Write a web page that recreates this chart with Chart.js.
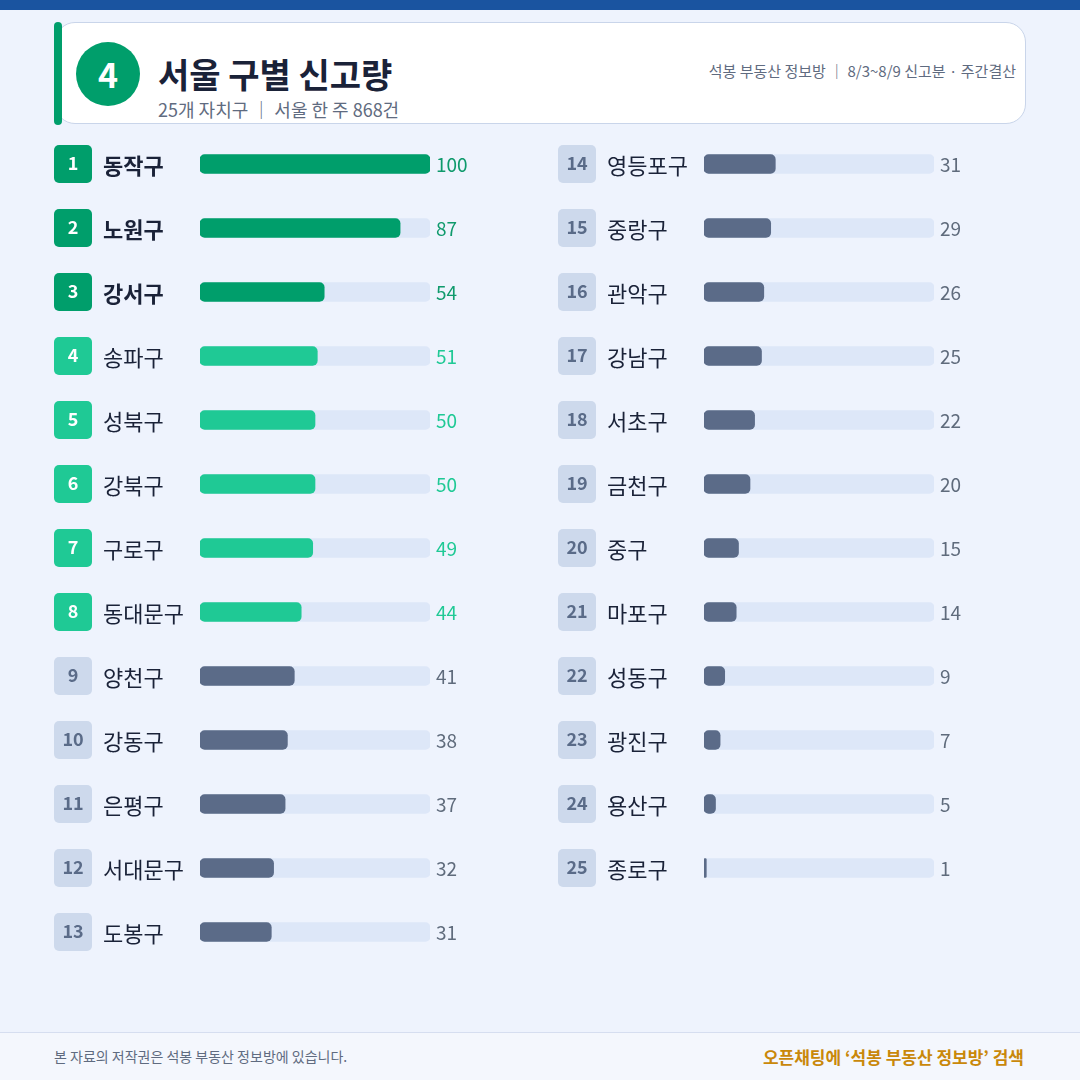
<!DOCTYPE html>
<html><head><meta charset="utf-8">
<script src="https://cdn.jsdelivr.net/npm/chart.js@4"></script>
<style>
body{margin:0;width:1080px;height:1080px;background:#eef3fd;font-family:"Noto Sans CJK KR","Noto Sans",sans-serif;position:relative;overflow:hidden}
#top{position:absolute;left:0;top:0;width:1080px;height:10px;background:#1a54a0}
#head{position:absolute;left:55px;top:22px;width:969px;height:100px;background:#fff;border:1.5px solid #c9d5ea;border-radius:20px}
#gbar{position:absolute;left:54px;top:22px;width:8px;height:103px;background:#009e6b;border-radius:4px}
#circ{position:absolute;left:76px;top:42px;width:64px;height:64px;border-radius:50%;background:#009e6b;color:#fff;font:700 34px "Noto Sans CJK KR";text-align:center;line-height:64px}
#title{position:absolute;left:158px;top:52px;font-weight:700;font-size:34px;color:#1a2238;line-height:44px}
#sub{position:absolute;left:158px;top:96px;font-size:18px;color:#5f6b80;line-height:26px}
#meta{position:absolute;right:64px;top:60px;font-size:15px;color:#5f6b80}
.c{position:absolute;top:132px;width:480px;height:832px}
#foot{position:absolute;left:0;top:1032px;width:1080px;height:48px;background:#f4f7fd;border-top:1px solid #d6def0}
#fl{position:absolute;left:54px;top:1046px;font-size:14px;color:#5f6b80}
#fr{position:absolute;right:56px;top:1044px;font-size:17px;font-weight:700;color:#c9880a}
</style></head><body>
<div id="top"></div>
<div id="head"></div><div id="gbar"></div>
<div id="circ">4</div>
<div id="title">서울 구별 신고량</div>
<div id="sub">25개 자치구 ｜ 서울 한 주 868건</div>
<div id="meta">석봉 부동산 정보방 ｜ 8/3~8/9 신고분 · 주간결산</div>
<div class="c" style="left:50px"><canvas id="left" width="480" height="832"></canvas></div>
<div class="c" style="left:554px"><canvas id="right" width="480" height="832"></canvas></div>
<div id="foot"></div>
<div id="fl">본 자료의 저작권은 석봉 부동산 정보방에 있습니다.</div>
<div id="fr">오픈채팅에 ‘석봉 부동산 정보방’ 검색</div>
<script>
const districts = ['동작구','노원구','강서구','송파구','성북구','강북구','구로구','동대문구','양천구','강동구','은평구','서대문구','도봉구',
  '영등포구','중랑구','관악구','강남구','서초구','금천구','중구','마포구','성동구','광진구','용산구','종로구'];
const counts = [100,87,54,51,50,50,49,44,41,38,37,32,31,31,29,26,25,22,20,15,14,9,7,5,1];
const axisMax = 100;
const rowsPerColumn = 13;

const tierOf = (rank) => rank <= 3 ? 0 : rank <= 8 ? 1 : 2;
const barColors = ['#009e6b', '#1fc995', '#5b6b88'];
const badgeColors = ['#009e6b', '#1fc995', '#cdd9ec'];
const badgeText = ['#fff', '#fff', '#5a6b88'];
const valueColors = ['#0f9a6c', '#1fc995', '#5f6b7c'];

const labelPlugin = {
    id: 'rowLabels',
    afterDatasetsDraw(chart) {
        const ctx = chart.ctx;
        const y = chart.scales.y;
        const area = chart.chartArea;
        const offset = chart.options.plugins.rowLabels.offset;
        const values = chart.data.datasets[1].data;
        chart.data.labels.forEach((name, i) => {
            if (values[i] == null) return;
            const rank = offset + i + 1;
            const t = tierOf(rank);
            const cy = y.getPixelForValue(i);
            ctx.save();
            ctx.fillStyle = badgeColors[t];
            ctx.beginPath();
            ctx.roundRect(4, cy - 19, 38, 38, 5);
            ctx.fill();
            ctx.fillStyle = badgeText[t];
            ctx.font = '700 18px "Noto Sans CJK KR"';
            ctx.textAlign = 'center';
            ctx.textBaseline = 'middle';
            ctx.fillText(rank, 23, cy - 1);
            ctx.textAlign = 'left';
            ctx.fillStyle = '#1a2238';
            ctx.font = (t === 0 ? '700 ' : '400 ') + '22px "Noto Sans CJK KR"';
            ctx.fillText(name, 53, cy + 2);
            ctx.fillStyle = valueColors[t];
            ctx.font = '400 19px "Noto Sans CJK KR"';
            ctx.fillText(values[i], area.right + 6, cy + 1);
            ctx.restore();
        });
    }
};

const makeChart = (id, names, values, offset) => {
    const labels = names.slice();
    while (labels.length < rowsPerColumn) labels.push('');
    return new Chart(id, {
        type: 'bar',
        data: {
            labels: labels,
            datasets: [
                { data: values.map(() => axisMax), backgroundColor: '#dde7f8', order: 2 },
                { data: values, backgroundColor: values.map((v, i) => barColors[tierOf(offset + i + 1)]), order: 1 },
            ],
        },
        options: {
            indexAxis: 'y',
            responsive: false,
            animation: false,
            layout: { padding: { left: 150, right: 100, top: 0, bottom: 0 } },
            datasets: { bar: { grouped: false, barThickness: 19, borderRadius: 5, borderSkipped: false } },
            scales: {
                x: { display: false, min: 0, max: axisMax },
                y: { display: false },
            },
            plugins: { legend: { display: false }, tooltip: { enabled: false }, rowLabels: { offset } },
        },
        plugins: [labelPlugin],
    });
};

makeChart('left', districts.slice(0, rowsPerColumn), counts.slice(0, rowsPerColumn), 0);
makeChart('right', districts.slice(rowsPerColumn), counts.slice(rowsPerColumn), rowsPerColumn);
</script>
</body></html>
